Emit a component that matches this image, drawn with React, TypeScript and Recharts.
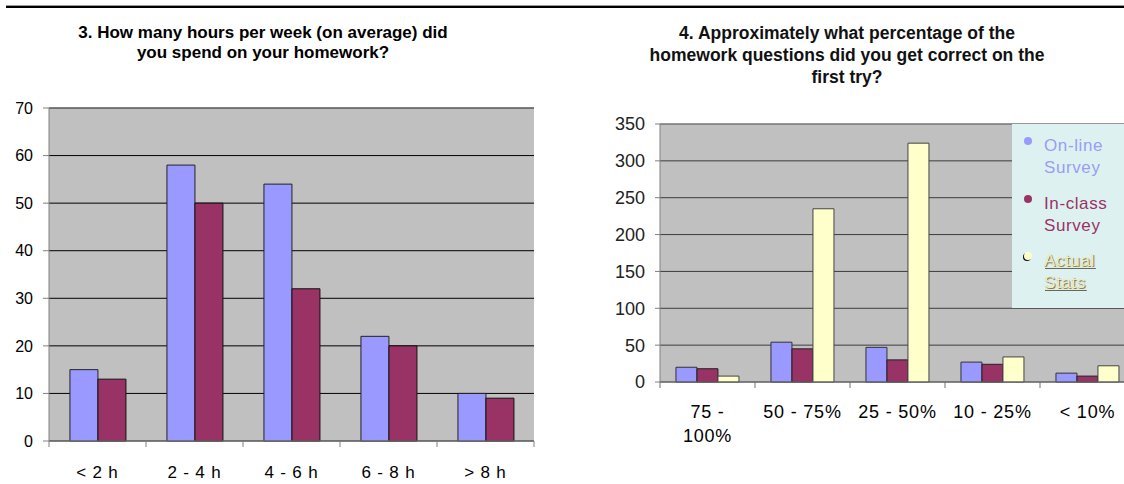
import React from "react";
import { BarChart, Bar, XAxis, YAxis, CartesianGrid, ReferenceLine, Legend } from "recharts";

// ---- Chart 3 data ----
const hoursCategories = ["< 2 h", "2 - 4 h", "4 - 6 h", "6 - 8 h", "> 8 h"];
const hoursOnline = [15, 58, 54, 22, 10];
const hoursInClass = [13, 50, 32, 20, 9];
const hoursTicks = [0, 10, 20, 30, 40, 50, 60, 70];

// ---- Chart 4 data ----
const pctCategories = ["75 -\n100%", "50 - 75%", "25 - 50%", "10 - 25%", "< 10%"];
const pctOnline = [20, 54, 47, 27, 12];
const pctInClass = [18, 45, 30, 24, 8];
const pctActual = [8, 235, 324, 34, 22];
const pctTicks = [0, 50, 100, 150, 200, 250, 300, 350];

const hoursTitle = ["3. How many hours per week (on average) did", "you spend on your homework?"];
const pctTitle = [
  "4. Approximately what percentage of the",
  "homework questions did you get correct on the",
  "first try?",
];

const seriesOrder = ["online", "inclass", "actual"];

const BLUE = "#9999FF";
const MAROON = "#993366";
const CREAM = "#FFFFCC";
const FONT = '"Liberation Sans", Arial, Helvetica, sans-serif';

const hoursData = hoursCategories.map((c, i) => ({
  category: c,
  online: hoursOnline[i],
  inclass: hoursInClass[i],
}));
const pctData = pctCategories.map((c, i) => ({
  category: c,
  online: pctOnline[i],
  inclass: pctInClass[i],
  actual: pctActual[i],
}));

// layout constants
const L_W = 560;
const L_MARGIN = { top: 108, right: 26, bottom: 0, left: 0 };
const L_YW = 49;
const L_BAND = (L_W - L_MARGIN.right - L_YW) / hoursCategories.length;

const R_W = 600;
const R_MARGIN = { top: 124, right: 25, bottom: 0, left: 0 };
const R_YW = 100;
const R_BAND = (R_W - R_MARGIN.right - R_YW) / pctCategories.length;

function CategoryTick(props: any) {
  const { x, y, payload, index, band, count, fontSize, dy, lineHeight, tickColor, spacing } = props;
  const lines = String(payload.value).split("\n");
  return (
    <g>
      <line x1={x - band / 2} x2={x - band / 2} y1={y} y2={y + 6} stroke={tickColor} />
      {index === count - 1 && (
        <line x1={x + band / 2} x2={x + band / 2} y1={y} y2={y + 6} stroke={tickColor} />
      )}
      <text
        x={x}
        y={y + dy}
        textAnchor="middle"
        fontSize={fontSize}
        fill="#000"
        fontFamily={FONT}
        style={{ letterSpacing: spacing }}
      >
        {lines.map((l: string, i: number) => (
          <tspan key={i} x={x} dy={i === 0 ? 0 : lineHeight}>
            {l}
          </tspan>
        ))}
      </text>
    </g>
  );
}

const legendTextColors: Record<string, string> = {
  online: "#9C9CF2",
  inclass: "#993366",
  actual: "#F2EDB4",
};
const legendDotColors: Record<string, string> = {
  online: BLUE,
  inclass: MAROON,
  actual: CREAM,
};

function SurveyLegend(props: any) {
  const payload = [...(props.payload || [])].sort(
    (a: any, b: any) => seriesOrder.indexOf(String(a.dataKey)) - seriesOrder.indexOf(String(b.dataKey))
  );
  return (
    <div
      style={{
        position: "relative",
        width: 150,
        height: 184,
        background: "#DDF2F0",
        fontFamily: FONT,
      }}
    >
      {payload.map((entry: any, i: number) => {
        const key = String(entry.dataKey);
        const words = String(entry.value).split(" ");
        const isActual = key === "actual";
        return (
          <div key={i} style={{ position: "absolute", left: 0, top: 11 + i * 57.5 }}>
            <span
              style={{
                position: "absolute",
                left: 12,
                top: 2,
                width: 8,
                height: 8,
                borderRadius: "50%",
                background: legendDotColors[key],
                boxShadow: isActual ? "-1px 1px 0 #111" : "none",
              }}
            />
            <div
              style={{
                position: "absolute",
                left: 32,
                top: 0,
                fontSize: 17,
                lineHeight: "22px",
                letterSpacing: 0.6,
                whiteSpace: "nowrap",
                color: legendTextColors[key],
                textDecoration: isActual ? "underline" : "none",
                textShadow: isActual ? "1px 1px 1px #666" : "none",
              }}
            >
              {words.map((w, j) => (
                <div key={j}>{w}</div>
              ))}
            </div>
          </div>
        );
      })}
    </div>
  );
}

export default function App() {
  return (
    <div
      style={{
        position: "absolute",
        left: 0,
        top: 0,
        width: 1124,
        height: 484,
        background: "#fff",
        overflow: "hidden",
        fontFamily: FONT,
      }}
    >
      {/* top rule */}
      <div style={{ position: "absolute", left: 6, right: 0, top: 5, height: 1, background: "#999" }} />
      <div style={{ position: "absolute", left: 6, right: 0, top: 6, height: 2, background: "#000" }} />

      {/* titles */}
      <div
        style={{
          position: "absolute",
          left: 0,
          top: 23,
          width: 526,
          textAlign: "center",
          fontWeight: "bold",
          fontSize: 17,
          lineHeight: "20px",
          color: "#000",
        }}
      >
        {hoursTitle.map((t, i) => (
          <div key={i}>{t}</div>
        ))}
      </div>
      <div
        style={{
          position: "absolute",
          left: 597,
          top: 22,
          width: 500,
          textAlign: "center",
          fontWeight: "bold",
          fontSize: 17.5,
          lineHeight: "22px",
          color: "#111",
        }}
      >
        {pctTitle.map((t, i) => (
          <div key={i}>{t}</div>
        ))}
      </div>

      {/* chart 3 */}
      <div style={{ position: "absolute", left: 0, top: 0, width: L_W, height: 484 }}>
        <BarChart
          width={L_W}
          height={484}
          data={hoursData}
          margin={L_MARGIN}
          barCategoryGap="21.6%"
          barGap={0}
        >
          <CartesianGrid fill="#C0C0C0" fillOpacity={1} stroke="#000" vertical={false} />
          <XAxis
            dataKey="category"
            height={43}
            interval={0}
            axisLine={{ stroke: "#808080" }}
            tickLine={false}
            tickSize={0}
            tickMargin={0}
            tick={(p: any) => (
              <CategoryTick
                {...p}
                band={L_BAND}
                count={hoursCategories.length}
                fontSize={17}
                dy={37}
                lineHeight={22}
                tickColor="#808080"
                spacing={0.8}
              />
            )}
          />
          <YAxis
            width={L_YW}
            domain={[0, 70]}
            ticks={hoursTicks}
            interval={0}
            axisLine={{ stroke: "#808080" }}
            tickLine={{ stroke: "#808080" }}
            tickSize={6}
            tickMargin={10}
            tick={{ fill: "#000", fontSize: 16, fontFamily: FONT }}
          />
          <YAxis
            yAxisId="border"
            orientation="right"
            width={0}
            domain={[0, 70]}
            tick={false}
            tickLine={false}
            axisLine={{ stroke: "#808080" }}
          />
          <ReferenceLine y={70} stroke="#808080" />
          <Bar dataKey="online" name="On-line Survey" fill={BLUE} stroke="#222" isAnimationActive={false} />
          <Bar dataKey="inclass" name="In-class Survey" fill={MAROON} stroke="#111" isAnimationActive={false} />
        </BarChart>
      </div>

      {/* chart 4 */}
      <div style={{ position: "absolute", left: 560, top: 0, width: 564, height: 484, overflow: "hidden" }}>
        <BarChart
          width={R_W}
          height={484}
          data={pctData}
          margin={R_MARGIN}
          barCategoryGap="16.8%"
          barGap={0}
        >
          <CartesianGrid fill="#C0C0C0" fillOpacity={1} stroke="#3C3C3C" vertical={false} />
          <XAxis
            dataKey="category"
            height={102}
            interval={0}
            axisLine={{ stroke: "#707070" }}
            tickLine={false}
            tickSize={0}
            tickMargin={0}
            tick={(p: any) => (
              <CategoryTick
                {...p}
                band={R_BAND}
                count={pctCategories.length}
                fontSize={18}
                dy={36}
                lineHeight={24}
                tickColor="#707070"
                spacing={0.8}
              />
            )}
          />
          <YAxis
            width={R_YW}
            domain={[0, 350]}
            ticks={pctTicks}
            interval={0}
            axisLine={{ stroke: "#808080" }}
            tickLine={{ stroke: "#808080" }}
            tickSize={5}
            tickMargin={10}
            tick={{ fill: "#222", fontSize: 18, fontFamily: FONT }}
          />
          <ReferenceLine y={350} stroke="#909090" />
          <Bar dataKey="online" name="On-line Survey" fill={BLUE} stroke="#333" isAnimationActive={false} />
          <Bar dataKey="inclass" name="In-class Survey" fill={MAROON} stroke="#222" isAnimationActive={false} />
          <Bar dataKey="actual" name="Actual Stats" fill={CREAM} stroke="#444" isAnimationActive={false} />
          <Legend
            layout="vertical"
            align="center"
            verticalAlign="middle"
            wrapperStyle={{ left: 452, top: 124, width: 150, height: 184 }}
            content={(p: any) => <SurveyLegend {...p} />}
          />
        </BarChart>
      </div>
    </div>
  );
}
